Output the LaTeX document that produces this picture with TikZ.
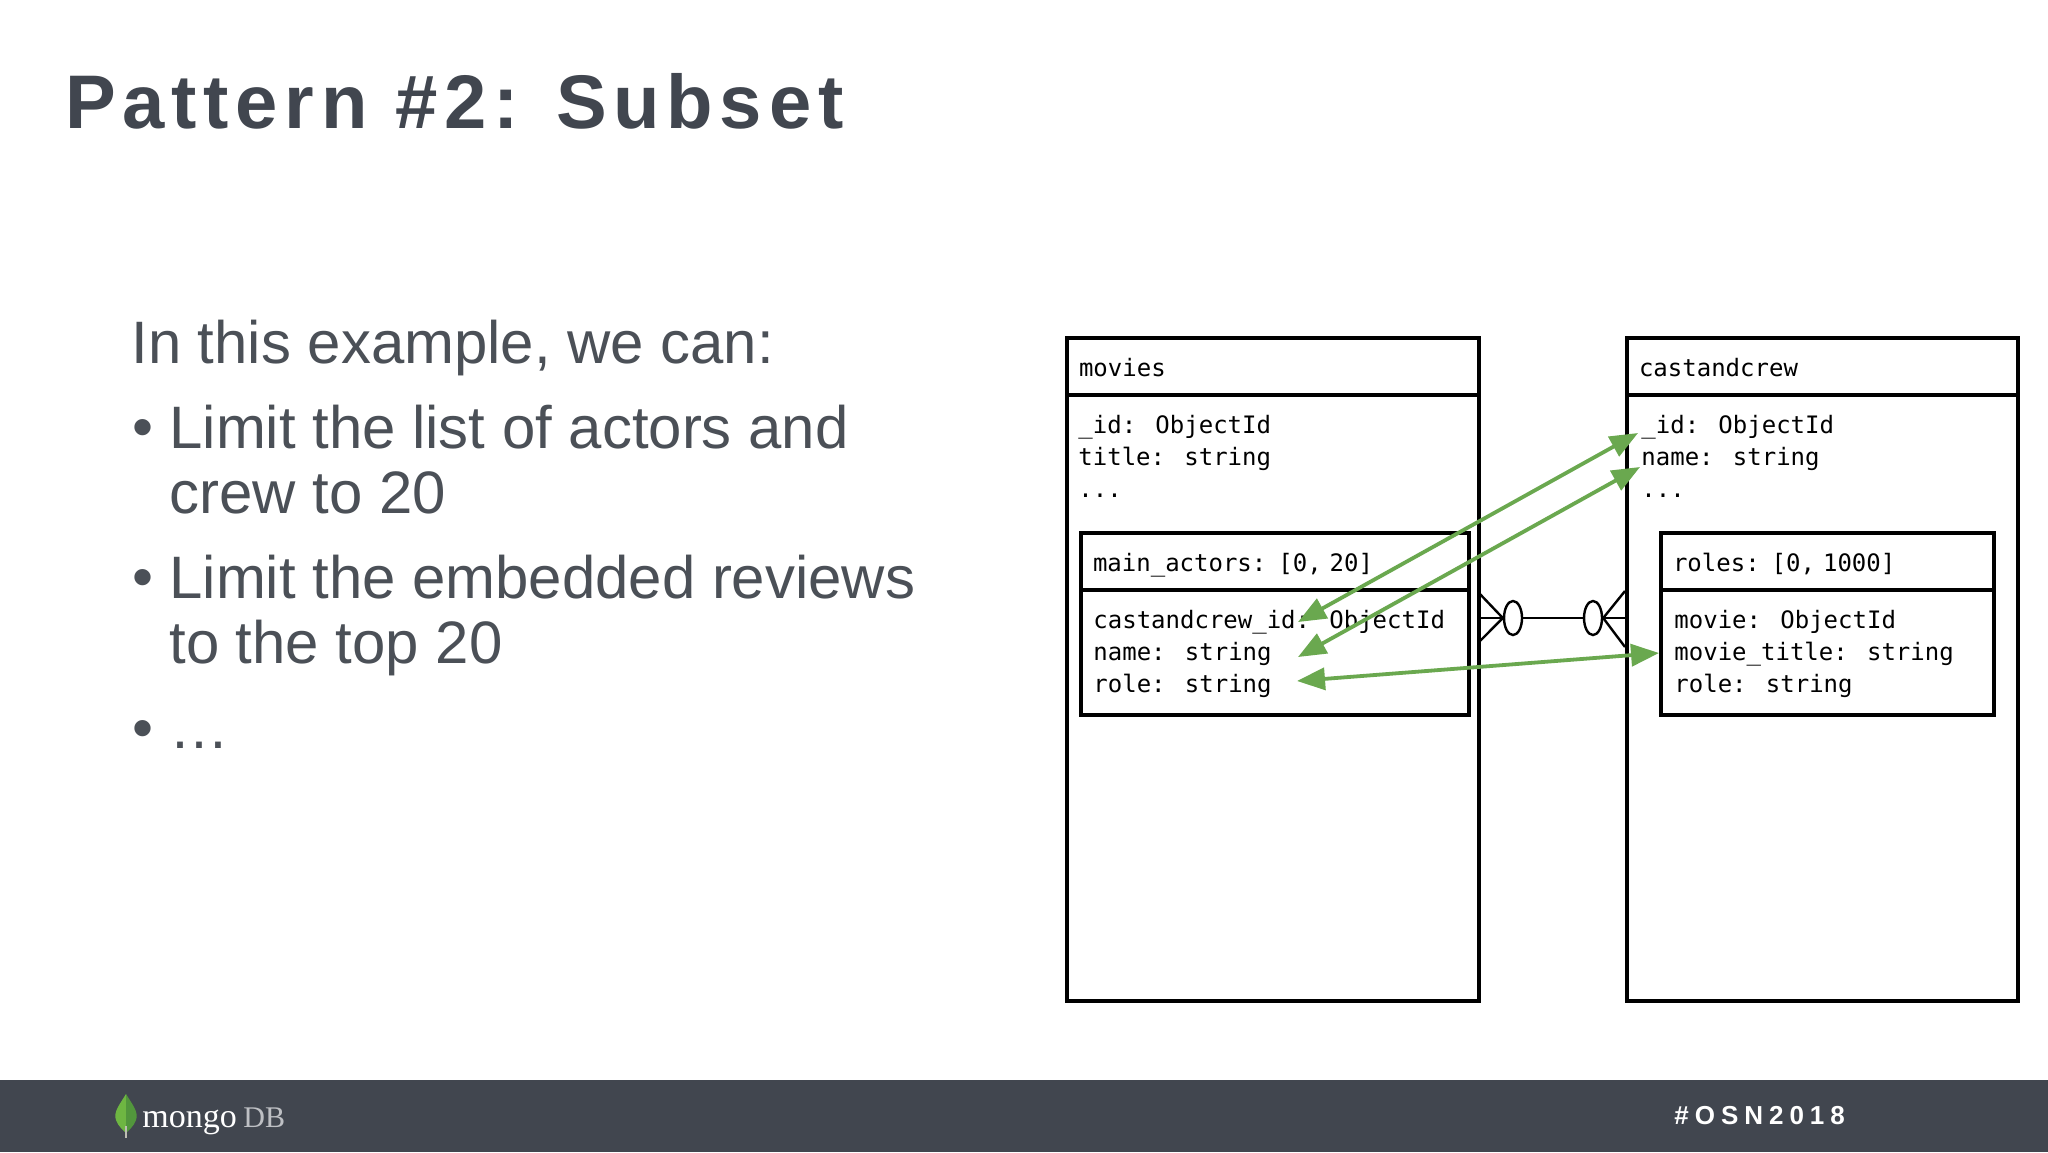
\documentclass[tikz,border=0pt]{standalone}
\usepackage{fontspec}
\setmainfont{Liberation Sans}
\newfontfamily\cardfont{DejaVu Sans Mono}
\newfontfamily\headfont[LetterSpace=8.9]{Liberation Sans}
\newfontfamily\tagfont[LetterSpace=23]{Liberation Sans}
\newfontfamily\logofont{Liberation Serif}
\usetikzlibrary{arrows.meta,positioning,shapes.geometric}
\definecolor{ink}{RGB}{65,70,79}
\definecolor{bodyink}{RGB}{75,80,87}
\definecolor{band}{RGB}{65,70,79}
\definecolor{link}{RGB}{106,168,79}
\definecolor{leafa}{RGB}{110,182,66}
\definecolor{leafb}{RGB}{82,150,60}
\definecolor{stem}{RGB}{190,190,180}
\definecolor{dbgrey}{RGB}{190,192,196}
\tikzset{
  card/.style={draw=black, line width=2pt, fill=white, anchor=north west, inner sep=0pt},
  head/.style={card, font=\cardfont\fontsize{12}{16}\selectfont, align=left, inner xsep=6pt, inner ysep=0pt, text height=9.5pt, text depth=0pt},
  fields/.style={font=\cardfont\fontsize{12}{16}\selectfont, align=left, inner sep=0pt, text=black},
  oval/.style={ellipse, draw=black, line width=1.2pt, fill=white, inner sep=0pt, minimum width=9pt, minimum height=17pt},
  rel/.style={draw=black, line width=1.2pt},
  subset/.style={{Triangle[length=14pt,width=11pt]}-{Triangle[length=14pt,width=11pt]}, draw=link, line width=1.9pt},
  intro/.style={font=\fontsize{29.95}{32.5}\selectfont, text=bodyink, anchor=base west, inner sep=0pt},
  item/.style={intro, align=left},
  title/.style={font=\headfont\bfseries\fontsize{38}{44}\selectfont, text=ink, anchor=base west, inner sep=0pt},
  hashtag/.style={font=\tagfont\bfseries\fontsize{13}{15}\selectfont, text=white, anchor=base west, inner sep=0pt},
  logotext/.style={font=\logofont\fontsize{17}{18}\selectfont, anchor=base west, inner sep=0pt},
}
\begin{document}
\begin{tikzpicture}[x=0.5pt, y=-0.5pt]
  \useasboundingbox (0,0) rectangle (2048,1152);
  \fill[white] (0,0) rectangle (2048,1152);
  \node[title] (title) at (65,128) {Pattern \#2: Subset};
  % text on the left
  \node[intro] (lead) at (131,363) {In this example, we can:};
  \node[item] (bulleta) at (132,447) {•};
  \node[item] (itema) at (169,513) {Limit the list of actors and\\crew to 20};
  \node[item] (bulletb) at (132,597) {•};
  \node[item] (itemb) at (169,663) {Limit the embedded reviews\\to the top 20};
  \node[item] (bulletc) at (132,748) {•};
  \node[item] (itemc) at (169,748) {…};
  % movies
  \node[head, text width=194.2pt, minimum height=29pt] (movhead) at (1065,336) {movies};
  \node[card, minimum width=206.2pt, minimum height=303pt] (movbody) at (1065,393) {};
  \node[fields, below right=11pt and 6.5pt of movbody.north west] (movfields) {\_id: ObjectId\\title: string\\...};
  \node[head, text width=182pt, minimum height=28.5pt] (acthead) at (1079,531) {main\_actors: [0, 20]};
  \node[card, minimum width=194pt, minimum height=62.5pt] (actbody) at (1079,588) {};
  \node[fields, below right=11pt and 7pt of actbody.north west] (actfields) {castandcrew\_id: ObjectId\\name: string\\role: string};
  % castandcrew
  \node[head, text width=183.5pt, minimum height=29pt] (casthead) at (1625,336) {castandcrew};
  \node[card, minimum width=195.5pt, minimum height=303pt] (castbody) at (1625,393) {};
  \node[fields, below right=11pt and 8pt of castbody.north west] (castfields) {\_id: ObjectId\\name: string\\...};
  \node[head, text width=154.5pt, minimum height=28.5pt] (rolehead) at (1659,531) {roles: [0, 1000]};
  \node[card, minimum width=166.5pt, minimum height=62.5pt] (rolebody) at (1659,588) {};
  \node[fields, below right=11pt and 7.5pt of rolebody.north west] (rolefields) {movie: ObjectId\\movie\_title: string\\role: string};
  % relation between the two
  \node[oval] (ovalmov) at (1513,618) {};
  \node[oval] (ovalcast) at (1593,618) {};
  \coordinate (movup) at (1478,592);
  \coordinate (movmid) at (1478,618);
  \coordinate (movdown) at (1478,643);
  \coordinate (castup) at (1625,591);
  \coordinate (castmid) at (1625,618);
  \coordinate (castdown) at (1625,647);
  \draw[rel] (movup) -- (ovalmov.west) -- (movdown);
  \draw[rel] (movmid) -- (ovalmov);
  \draw[rel] (ovalmov) -- (ovalcast);
  \draw[rel] (castup) -- (ovalcast.east) -- (castdown);
  \draw[rel] (castmid) -- (ovalcast);
  % green links
  \coordinate (idend) at (1298,622);
  \coordinate (idcast) at (1638,433);
  \coordinate (nameend) at (1298,657);
  \coordinate (namecast) at (1640,467);
  \coordinate (roleend) at (1297,681);
  \coordinate (titleend) at (1659,653);
  \draw[subset] (idend) -- (idcast);
  \draw[subset] (nameend) -- (namecast);
  \draw[subset] (roleend) -- (titleend);
  % footer
  \fill[band] (0,1080) rectangle (2048,1152);
  \fill[leafa] (126,1094) .. controls (120,1104) and (113,1112) .. (116,1120) .. controls (118,1126) and (123,1130) .. (126,1133) -- cycle;
  \fill[leafb] (126,1094) .. controls (132,1104) and (139,1112) .. (136,1120) .. controls (134,1126) and (129,1130) .. (126,1133) -- cycle;
  \draw[stem, line width=0.6pt] (126,1126) -- (126,1138);
  \node[logotext, text=white] (mongo) at (142,1127) {mongo};
  \node[logotext, text=dbgrey, font=\logofont\fontsize{15}{18}\selectfont] (dbname) at (243,1127) {DB};
  \node[hashtag] (tag) at (1674,1124) {\#OSN2018};
\end{tikzpicture}
\end{document}
